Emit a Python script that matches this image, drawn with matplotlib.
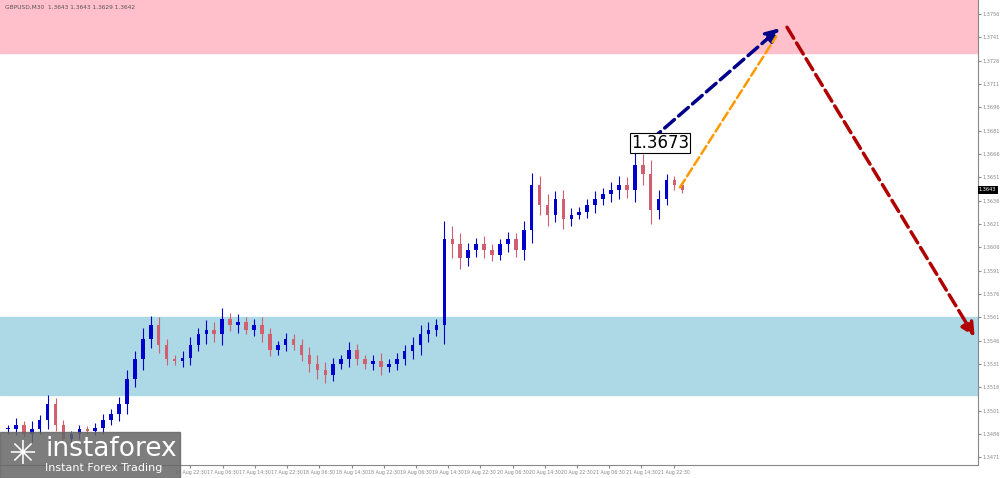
import matplotlib.pyplot as plt
import numpy as np

closes = [1.3489, 1.3492, 1.3486, 1.3489, 1.3495, 1.3505, 1.3492, 1.3483, 1.3486, 1.3489,
          1.3488, 1.3490, 1.3495, 1.3499, 1.3505, 1.3521, 1.3534, 1.3547, 1.3556, 1.3543,
          1.3534, 1.3533, 1.3535, 1.3543, 1.3550, 1.3553, 1.3550, 1.3560, 1.3556, 1.3558,
          1.3553, 1.3556, 1.3550, 1.3540, 1.3543, 1.3547, 1.3543, 1.3537, 1.3531, 1.3527,
          1.3524, 1.3531, 1.3534, 1.3540, 1.3534, 1.3531, 1.3533, 1.3529, 1.3531, 1.3534,
          1.3539, 1.3543, 1.3550, 1.3553, 1.3556, 1.3611, 1.3608, 1.3599, 1.3604, 1.3608,
          1.3604, 1.3601, 1.3608, 1.3611, 1.3604, 1.3617, 1.3646, 1.3633, 1.3627, 1.3637,
          1.3624, 1.3627, 1.3629, 1.3633, 1.3637, 1.3640, 1.3643, 1.3646, 1.3643, 1.3659,
          1.3653, 1.3630, 1.3637, 1.3649, 1.3646, 1.3643]
wicks = [3, 4, 2, 5, 3, 6, 4, 3, 2, 3, 2, 3, 4, 3, 5, 6, 5, 7, 6, 5,
         4, 3, 4, 5, 4, 6, 5, 7, 4, 5, 3, 4, 5, 4, 3, 4, 3, 4, 5, 6,
         5, 4, 3, 5, 4, 3, 4, 5, 3, 4, 4, 5, 6, 5, 4, 12, 9, 7, 5, 4,
         5, 4, 3, 5, 4, 6, 8, 6, 7, 5, 6, 4, 3, 4, 5, 4, 5, 6, 5, 8,
         7, 9, 6, 4, 3, 2]
yticks = [1.3756 - 0.0015 * i for i in range(20)]
xlabels = ['16 Aug 22:30', '17 Aug 06:30', '17 Aug 14:30', '17 Aug 22:30', '18 Aug 06:30',
           '18 Aug 14:30', '18 Aug 22:30', '19 Aug 06:30', '19 Aug 14:30', '19 Aug 22:30',
           '20 Aug 06:30', '20 Aug 14:30', '20 Aug 22:30', '21 Aug 06:30', '21 Aug 14:30',
           '21 Aug 22:30']
xlabel_pos = [23 + 4.06 * i for i in range(16)]

fig = plt.figure(figsize=(10, 4.78), dpi=100)
ax = fig.add_axes([0, 13 / 478, 0.978, 465 / 478])
ax.set_xlim(-1, 122.25)
ax.set_ylim(1.3466, 1.3765)

ax.axhspan(1.3731, 1.3800, color='#ffc0cb', zorder=0)
ax.axhspan(1.3511, 1.3561, color='#add8e6', zorder=0)

opens = [closes[0]] + closes[:-1]
for i, (o, c, w) in enumerate(zip(opens, closes, wicks)):
    hi = max(o, c) + w * 0.0001
    lo = min(o, c) - w * 0.0001
    col = '#0000cd' if c >= o else '#d06070'
    ax.vlines(i, lo, hi, color=col, lw=0.8, zorder=2)
    ax.bar(i, max(abs(c - o), 0.00008), bottom=min(o, c), width=0.45, color=col, zorder=3)

ax.annotate('', xy=(97.5, 1.3748), xytext=(79, 1.3666),
            arrowprops=dict(arrowstyle='-|>', color='#00008b', lw=2.5, ls='--', mutation_scale=20))
ax.annotate('', xy=(97, 1.3743), xytext=(84.5, 1.3643),
            arrowprops=dict(arrowstyle='-', color='#ff9900', lw=1.8, ls='--'))
ax.annotate('', xy=(122, 1.3547), xytext=(98, 1.3749),
            arrowprops=dict(arrowstyle='-|>', color='#b00000', lw=2.5, ls='--', mutation_scale=20))
ax.text(78.5, 1.3673, '1.3673', fontsize=12, ha='left', va='center',
        bbox=dict(facecolor='white', edgecolor='black', lw=0.8, pad=1))

ax.yaxis.tick_right()
ax.set_yticks(yticks)
ax.set_yticklabels([f'{v:.4f}' for v in yticks], fontsize=3.6, color='#555555')
ax.set_xticks(xlabel_pos)
ax.set_xticklabels(xlabels, fontsize=3.4, color='#555555')
ax.tick_params(length=2, pad=1.5, colors='#888888')
for s in ['top', 'left']:
    ax.spines[s].set_visible(False)
for s in ['right', 'bottom']:
    ax.spines[s].set_color('#888888')
ax.text(1.001, (1.3643 - 1.3466) / (1.3765 - 1.3466), '1.3643', transform=ax.transAxes,
        fontsize=3.6, color='white', va='center', ha='left',
        bbox=dict(facecolor='black', edgecolor='none', pad=1))
ax.text(0.005, 0.99, 'GBPUSD,M30  1.3643 1.3643 1.3629 1.3642', transform=ax.transAxes,
        fontsize=4.2, color='#555555', va='top')

fig.patches.append(plt.Rectangle((0, 0), 0.18, 46 / 478, transform=fig.transFigure,
                                 color='#666666', alpha=0.85, zorder=5))
fig.text(0.045, 0.06, 'instaforex', fontsize=19, color='white', va='center', zorder=6)
fig.text(0.045, 0.02, 'Instant Forex Trading', fontsize=8, color='white', va='center', zorder=6)
fig.text(0.022, 0.05, '✳', fontsize=24, color='white', ha='center', va='center', zorder=6)

fig.savefig('out.png', dpi=100)
